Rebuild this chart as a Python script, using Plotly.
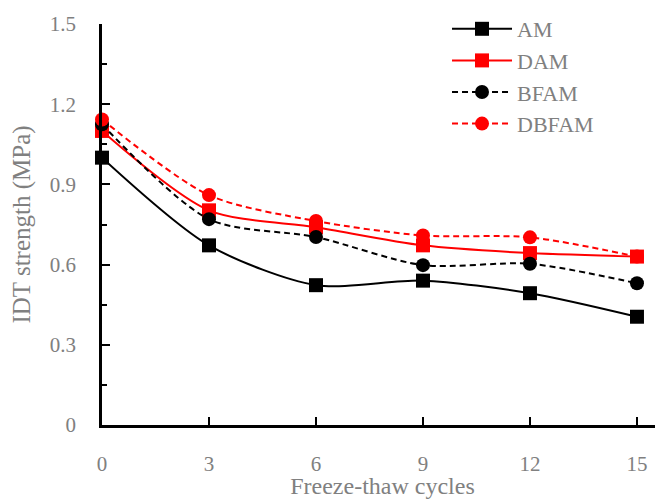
import plotly.graph_objects as go

cycles = [0, 3, 6, 9, 12, 15]
am = [1.00, 0.672, 0.523, 0.540, 0.493, 0.405]
dam = [1.10, 0.803, 0.740, 0.672, 0.643, 0.630]
bfam = [1.125, 0.770, 0.703, 0.598, 0.603, 0.530]
dbfam = [1.143, 0.860, 0.763, 0.709, 0.702, 0.630]

x_ticks = [0, 3, 6, 9, 12, 15]
y_ticks = [0, 0.3, 0.6, 0.9, 1.2, 1.5]
y_tick_text = ["0", "0.3", "0.6", "0.9", "1.2", "1.5"]

FONT = "Palatino Linotype, Book Antiqua, Liberation Serif, serif"
GRAY = "#808080"

series = [
    ("AM", am, "black", "solid", "square"),
    ("DAM", dam, "#ff0000", "solid", "square"),
    ("BFAM", bfam, "black", "dash", "circle"),
    ("DBFAM", dbfam, "#ff0000", "dash", "circle"),
]

fig = go.Figure()
for name, vals, color, dash, sym in series:
    fig.add_trace(go.Scatter(
        x=cycles, y=vals, name=name, mode="lines+markers",
        line=dict(color=color, width=2, dash="6px,4px" if dash == "dash" else "solid", shape="spline", smoothing=0.8),
        marker=dict(symbol=sym, size=14, color=color),
        cliponaxis=False,
    ))

fig.update_layout(
    width=655, height=491,
    margin=dict(l=94, r=0, t=15, b=74),
    plot_bgcolor="white", paper_bgcolor="white",
    font=dict(family=FONT, color=GRAY, size=20),
    showlegend=True,
    legend=dict(
        x=0.615, y=1.04, xanchor="left", yanchor="top",
        font=dict(family=FONT, size=22, color=GRAY),
        bgcolor="rgba(0,0,0,0)", tracegroupgap=0,
        itemwidth=60,
    ),
    xaxis=dict(
        range=[0, 15.73], tickvals=x_ticks, ticktext=[str(v) for v in x_ticks],
        ticks="inside", ticklen=8, tickwidth=1.5, tickcolor="black",
        showline=True, linecolor="black", linewidth=2.5,
        showgrid=False, zeroline=False, automargin=False,
        ticklabelstandoff=18,
        title=dict(text="Freeze-thaw cycles", standoff=4, font=dict(size=24, color=GRAY)),
        tickfont=dict(size=21, color=GRAY),
    ),
    yaxis=dict(
        range=[0, 1.5], tickvals=y_ticks, ticktext=y_tick_text,
        ticks="inside", ticklen=8, tickwidth=1.5, tickcolor="black",
        minor=dict(dtick=0.15, ticks="inside", ticklen=5, tickwidth=1.5, tickcolor="black"),
        showline=True, linecolor="black", linewidth=2.5,
        showgrid=False, zeroline=False, automargin=False,
        ticklabelstandoff=19,
        title=dict(text="IDT strength (MPa)", standoff=14, font=dict(size=25, color=GRAY)),
        tickfont=dict(size=21, color=GRAY),
    ),
)

fig.write_html("out.html")
